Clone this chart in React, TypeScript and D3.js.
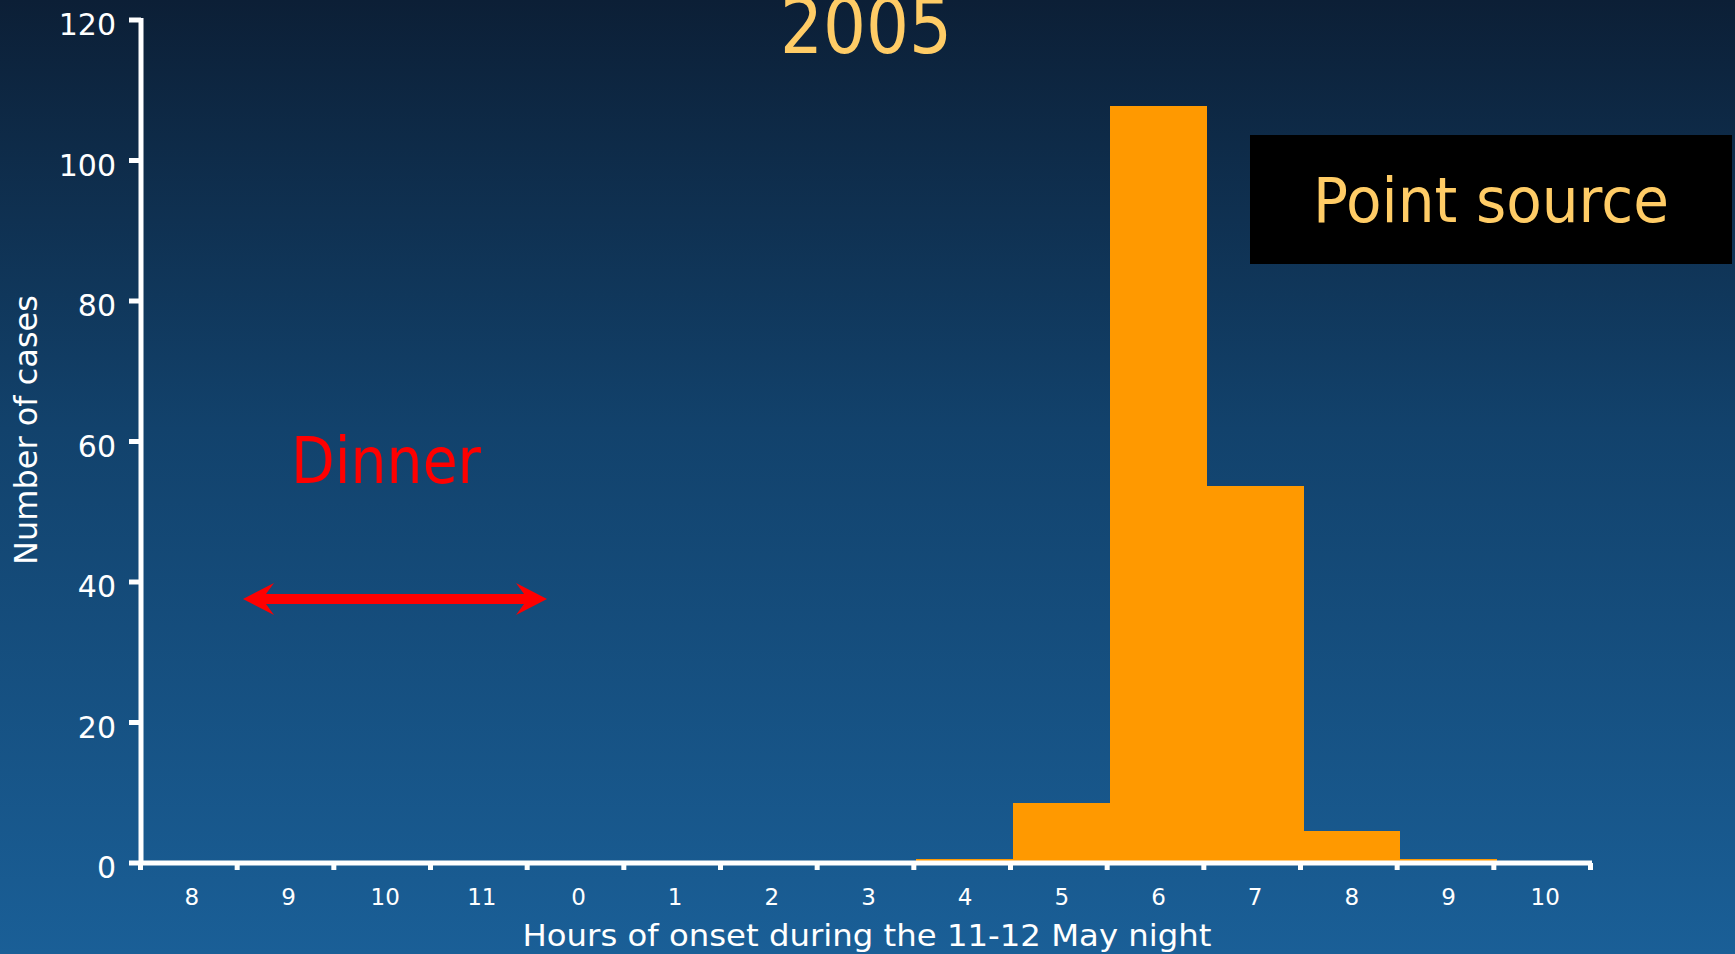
import React from "react";
import * as d3 from "d3";

const hourLabels = ["8", "9", "10", "11", "0", "1", "2", "3", "4", "5", "6", "7", "8", "9", "10"];
const caseCounts = [0, 0, 0, 0, 0, 0, 0, 0, 0.6, 8.6, 107.7, 53.7, 4.6, 0.6, 0];
const yTickValues = [0, 20, 40, 60, 80, 100, 120];

const W = 1735;
const H = 954;
const FONT = "'DejaVu Sans', Verdana, sans-serif";

export default function App() {
  const idx = hourLabels.map((_, i) => i);
  const x = d3.scaleBand<number>().domain(idx).range([140.5, 1590.5]).padding(0);
  const xBars = d3.scaleBand<number>().domain(idx).range([143, 1593]).padding(0);
  const y = d3.scaleLinear().domain([0, 120]).range([863, 20]);
  const bw = x.bandwidth();
  const boundaries = d3.range(hourLabels.length + 1).map((i) => 140.5 + i * bw);

  const arrowPath =
    "M243,599 L274,583 L266,594 L524,594 L516,583 L547,599 L516,615 L524,604 L266,604 L274,615 Z";

  return (
    <svg
      width={W}
      height={H}
      style={{ position: "fixed", left: 0, top: 0, display: "block" }}
    >
      <defs>
        <linearGradient id="bg" x1="0" y1="0" x2="0" y2="1">
          <stop offset="0%" stopColor="#0C1F36" />
          <stop offset="45%" stopColor="#12426C" />
          <stop offset="100%" stopColor="#1A5F97" />
        </linearGradient>
      </defs>
      <rect x={0} y={0} width={W} height={H} fill="url(#bg)" />

      {/* bars */}
      <g shapeRendering="crispEdges">
        {caseCounts.map((v, i) =>
          v > 0 ? (
            <rect
              key={i}
              x={xBars(i)}
              y={y(v)}
              width={xBars.bandwidth() + 0.5}
              height={y(0) - y(v)}
              fill="#FF9900"
            />
          ) : null
        )}
      </g>

      {/* y axis */}
      <line x1={141} x2={141} y1={18} y2={865} stroke="#fff" strokeWidth={5} />
      {yTickValues.map((t) => (
        <g key={t}>
          <line x1={129} x2={141} y1={y(t)} y2={y(t)} stroke="#fff" strokeWidth={5} />
          <text
            x={116}
            y={y(t) + 15}
            textAnchor="end"
            fill="#fff"
            fontFamily={FONT}
            fontSize={30}
          >
            {t}
          </text>
        </g>
      ))}

      {/* x axis */}
      <line x1={139} x2={1592} y1={863} y2={863} stroke="#fff" strokeWidth={5} />
      {boundaries.map((bx, i) => (
        <line key={i} x1={bx} x2={bx} y1={863} y2={870} stroke="#fff" strokeWidth={5} />
      ))}
      {hourLabels.map((lab, i) => (
        <text
          key={i}
          x={(x(i) as number) + bw / 2 + 3}
          y={905}
          textAnchor="middle"
          fill="#fff"
          fontFamily={FONT}
          fontSize={23}
        >
          {lab}
        </text>
      ))}

      {/* axis titles */}
      <text
        x={867}
        y={946}
        textAnchor="middle"
        fill="#fff"
        fontFamily={FONT}
        fontSize={31}
        textLength={689}
        lengthAdjust="spacingAndGlyphs"
      >
        Hours of onset during the 11-12 May night
      </text>
      <text
        transform="translate(37,430) rotate(-90)"
        textAnchor="middle"
        fill="#fff"
        fontFamily={FONT}
        fontSize={32}
      >
        Number of cases
      </text>

      {/* title */}
      <text
        x={866}
        y={53}
        textAnchor="middle"
        fill="#FFCC66"
        fontFamily={FONT}
        fontSize={76}
        textLength={172}
        lengthAdjust="spacingAndGlyphs"
      >
        2005
      </text>

      {/* Point source box */}
      <rect x={1250} y={135} width={482} height={129} fill="#000" />
      <text
        x={1313}
        y={222}
        fill="#FFCC66"
        fontFamily={FONT}
        fontSize={62}
        textLength={356}
        lengthAdjust="spacingAndGlyphs"
      >
        Point source
      </text>

      {/* Dinner annotation */}
      <text
        x={291}
        y={483}
        fill="#FF0000"
        fontFamily={FONT}
        fontSize={64}
        textLength={190}
        lengthAdjust="spacingAndGlyphs"
      >
        Dinner
      </text>
      <path d={arrowPath} fill="#FF0000" />
    </svg>
  );
}
